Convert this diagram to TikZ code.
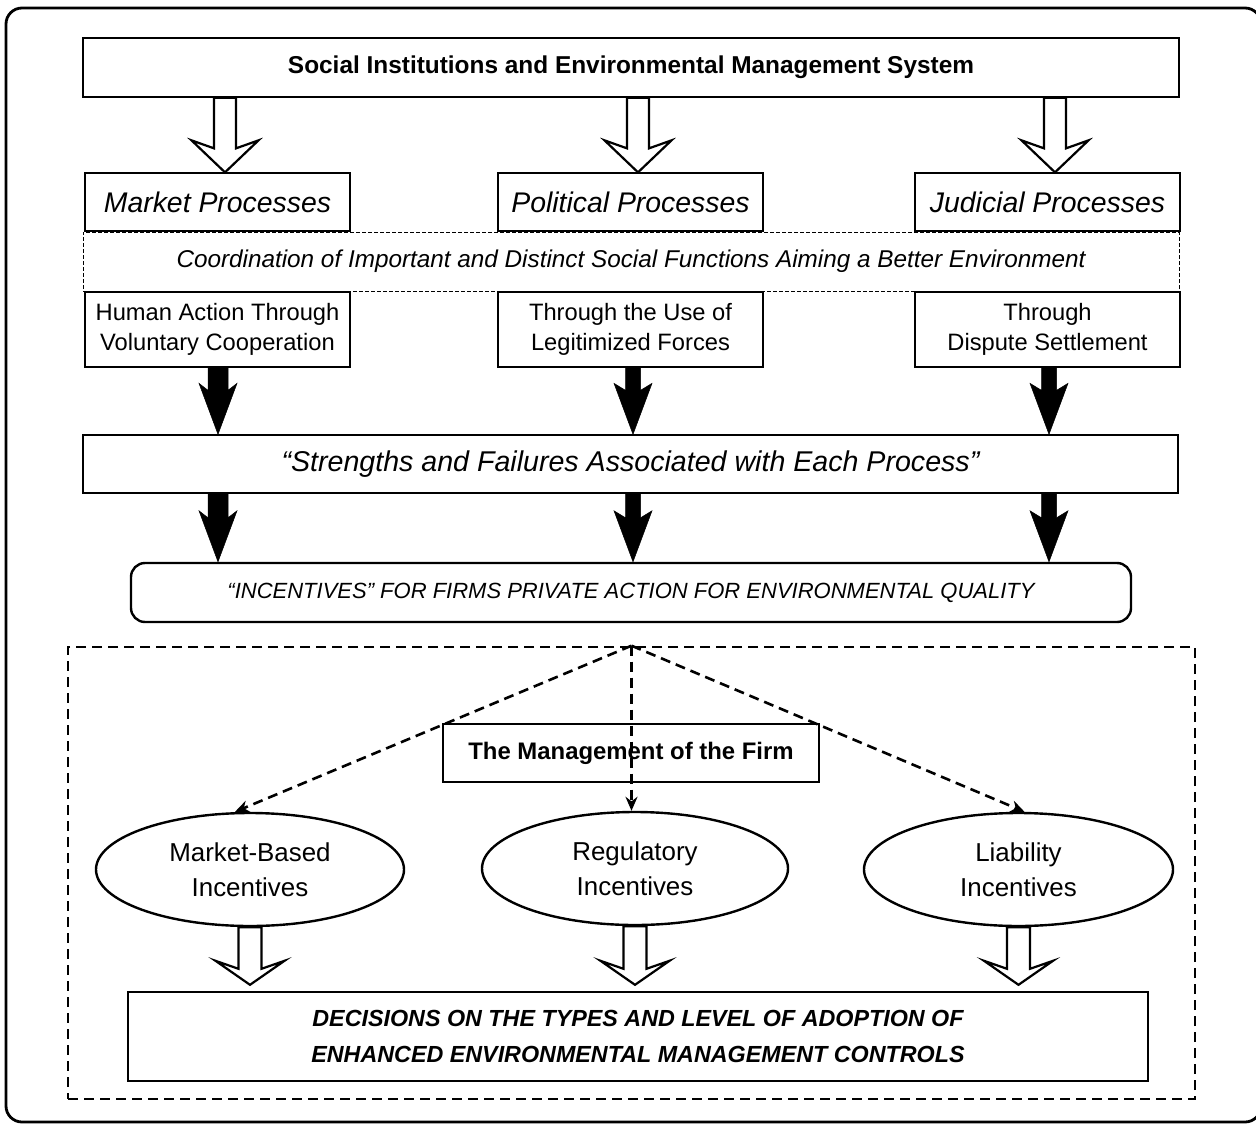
\documentclass[tikz,border=0pt]{standalone}
\usepackage{fontspec}
\setmainfont{Liberation Sans}
\usetikzlibrary{calc,arrows.meta,shapes.geometric}
\newcommand{\ftitle}{\fontsize{24.4}{29}\selectfont\bfseries}
\newcommand{\fproc}{\fontsize{28.4}{34}\selectfont\itshape}
\newcommand{\fcoord}{\fontsize{24.3}{29}\selectfont\itshape}
\newcommand{\fhow}{\fontsize{23.7}{30.5}\selectfont}
\newcommand{\fstr}{\fontsize{28.6}{34}\selectfont\itshape}
\newcommand{\finc}{\fontsize{22}{27}\selectfont\itshape}
\newcommand{\fmgmt}{\fontsize{23.9}{29}\selectfont\bfseries}
\newcommand{\fell}{\fontsize{25.9}{35}\selectfont}
\newcommand{\fdec}{\fontsize{23.3}{36}\selectfont\bfseries\itshape}
% #1 style, #2 start, #3 tip, #4 half shaft, #5 half head, #6 wing back, #7 junction back
\newcommand{\blockarr}[7]{%
  \path[#1] ($(#2)+(-#4,0)$) -- ($(#3)+(-#4,-#7)$) -- ($(#3)+(-#5,-#6)$) -- (#3)
    -- ($(#3)+(#5,-#6)$) -- ($(#3)+(#4,-#7)$) -- ($(#2)+(#4,0)$) -- cycle;}
\begin{document}
\begin{tikzpicture}[x=1pt,y=-1pt]
\tikzset{
  thinbox/.style={draw, line width=1.3pt, inner sep=0pt, align=center},
  thickbox/.style={draw, line width=2.4pt, inner sep=0pt, align=center},
  ellbox/.style={draw, ellipse, line width=2.4pt, inner sep=0pt, align=center, minimum height=113pt},
  openarr/.style={draw, line width=2.2pt, fill=white, line join=miter},
  solidarr/.style={fill=black, draw=black, line width=0.5pt, line join=miter},
  dasharr/.style={draw, line width=2.6pt, dash pattern=on 10pt off 6pt, -{Stealth[length=14pt,width=12pt]}},
}
\useasboundingbox (0,0) rectangle (1256,1124);
\fill[white] (0,0) rectangle (1256,1124);
\draw[line width=2.8pt, rounded corners=16pt] (6,8) rectangle (1261,1122);

% top part
\node[thinbox, minimum width=1096pt, minimum height=59pt, font=\ftitle] (top) at (631,67.5)
  {Social Institutions and Environmental Management System};
\node[draw, line width=1pt, dash pattern=on 4pt off 2pt, inner sep=0pt,
  minimum width=1096pt, minimum height=59pt, font=\fcoord] (coord) at (631,261.5)
  {Coordination of Important and Distinct Social Functions Aiming a Better Environment};
\node[thinbox, minimum width=265pt, minimum height=58pt, font=\fproc] (mp) at (217.5,202) {Market Processes};
\node[thinbox, minimum width=265pt, minimum height=58pt, font=\fproc] (pp) at (630.5,202) {Political Processes};
\node[thinbox, minimum width=265pt, minimum height=58pt, font=\fproc] (jp) at (1047.5,202) {Judicial Processes};
\node[thinbox, minimum width=265pt, minimum height=75pt, font=\fhow] (mh) at (217.5,329.5)
  {Human Action Through\\Voluntary Cooperation};
\node[thinbox, minimum width=265pt, minimum height=75pt, font=\fhow] (ph) at (630.5,329.5)
  {Through the Use of\\Legitimized Forces};
\node[thinbox, minimum width=265pt, minimum height=75pt, font=\fhow] (jh) at (1047.5,329.5)
  {Through\\Dispute Settlement};
\node[thinbox, minimum width=1095pt, minimum height=58pt, font=\fstr] (sf) at (630.5,464)
  {“Strengths and Failures Associated with Each Process”};
\node[thickbox, rounded corners=14pt, minimum width=1000pt, minimum height=59pt, font=\finc] (inc) at (631,592.5)
  {“INCENTIVES” FOR FIRMS PRIVATE ACTION FOR ENVIRONMENTAL QUALITY};

% hollow arrows from top box
\coordinate (s1) at (top.south -| 225,0);  \coordinate (t1) at (mp.north -| 225,0);
\coordinate (s2) at (top.south -| 638,0);  \coordinate (t2) at (pp.north -| 638,0);
\coordinate (s3) at (top.south -| 1055,0); \coordinate (t3) at (jp.north -| 1055,0);
\blockarr{openarr}{s1}{t1}{11}{33.5}{32}{24}
\blockarr{openarr}{s2}{t2}{11}{33.5}{32}{24}
\blockarr{openarr}{s3}{t3}{11}{33.5}{32}{24}

% black arrows
\coordinate (a1) at (mh.south -| 218,0);  \coordinate (b1) at (sf.north -| 218,0);
\coordinate (a2) at (ph.south -| 633,0);  \coordinate (b2) at (sf.north -| 633,0);
\coordinate (a3) at (jh.south -| 1049,0); \coordinate (b3) at (sf.north -| 1049,0);
\blockarr{solidarr}{a1}{b1}{10}{19}{51}{44}
\blockarr{solidarr}{a2}{b2}{7.5}{19}{51}{44}
\blockarr{solidarr}{a3}{b3}{7.5}{19}{51}{44}
\coordinate (c1) at (sf.south -| 218,0);  \coordinate (d1) at (inc.north -| 218,0);
\coordinate (c2) at (sf.south -| 633,0);  \coordinate (d2) at (inc.north -| 633,0);
\coordinate (c3) at (sf.south -| 1049,0); \coordinate (d3) at (inc.north -| 1049,0);
\blockarr{solidarr}{c1}{d1}{10}{19}{51}{44}
\blockarr{solidarr}{c2}{d2}{7.5}{19}{51}{44}
\blockarr{solidarr}{c3}{d3}{7.5}{19}{51}{44}

% firm part
\node[draw, line width=2.6pt, dash pattern=on 10pt off 6pt, inner sep=0pt,
  minimum width=1127pt, minimum height=452pt] (firm) at (631.5,873) {};
\node[thickbox, minimum width=376pt, minimum height=58pt, font=\fmgmt] (mg) at (631,753)
  {The Management of the Firm};
\node[ellbox, minimum width=308pt, font=\fell] (mb) at (250,869.5) {Market-Based\\Incentives};
\node[ellbox, minimum width=306pt, font=\fell] (reg) at (635,868.5) {Regulatory\\Incentives};
\node[ellbox, minimum width=309pt, font=\fell] (lia) at (1018.5,869.5) {Liability\\Incentives};
\node[thickbox, minimum width=1020pt, minimum height=89pt, font=\fdec] (dec) at (638,1036.5)
  {DECISIONS ON THE TYPES AND LEVEL OF ADOPTION OF\\ENHANCED ENVIRONMENTAL MANAGEMENT CONTROLS};

\draw[dasharr] (firm.north) -- ($(mb.north)+(-15,0)$);
\draw[dasharr] (firm.north) -- (firm.north |- reg.north);
\draw[dasharr] (firm.north) -- ($(lia.north)+(6,0)$);

% hollow arrows to decisions
\coordinate (e1) at (mb.south);  \coordinate (f1) at ($(dec.north -| mb.south)+(0,-6)$);
\coordinate (e2) at (reg.south); \coordinate (f2) at ($(dec.north -| reg.south)+(0,-6)$);
\coordinate (e3) at (lia.south); \coordinate (f3) at ($(dec.north -| lia.south)+(0,-6)$);
\blockarr{openarr}{e1}{f1}{11.5}{34.5}{24}{16}
\blockarr{openarr}{e2}{f2}{11.5}{34.5}{24}{16}
\blockarr{openarr}{e3}{f3}{11.5}{34.5}{24}{16}
\end{tikzpicture}
\end{document}
